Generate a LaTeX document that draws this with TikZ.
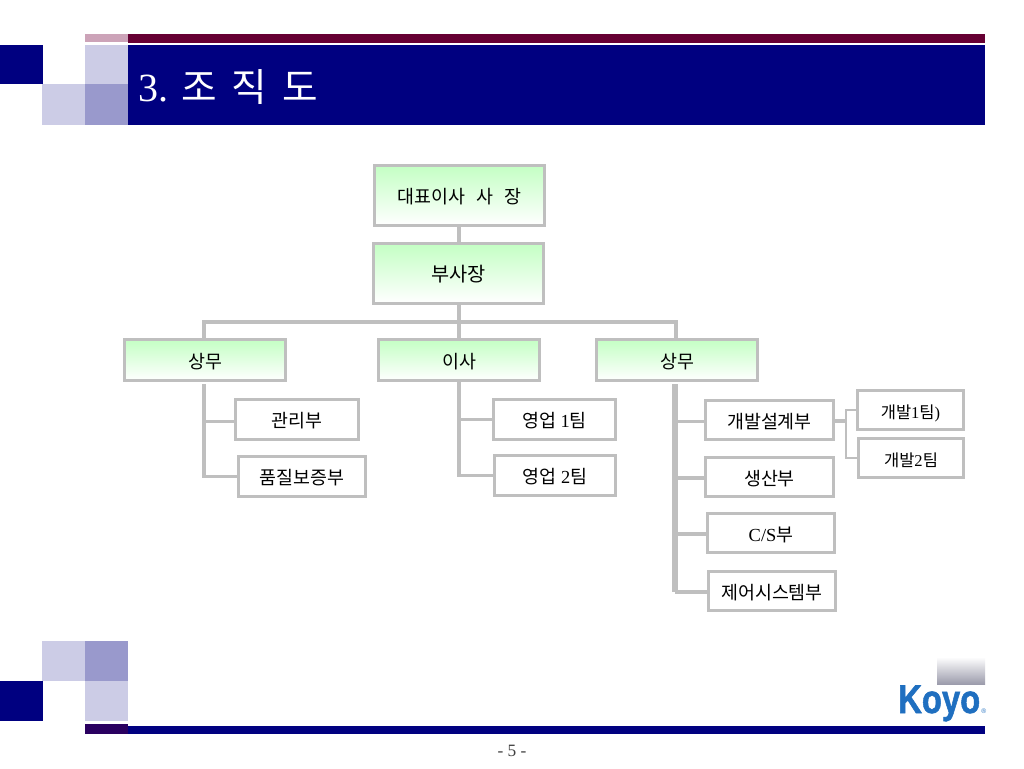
\documentclass[tikz,border=0pt]{standalone}
\usepackage{fontspec}
\setmainfont{Liberation Serif}
\newfontfamily\kr{Noto Sans CJK KR}
\newfontfamily\logofont[BoldFeatures={FakeBold=1.5}]{Liberation Sans}
\definecolor{navy}{HTML}{000080}
\definecolor{crimson}{HTML}{660033}
\definecolor{pinkbar}{HTML}{CCA3B8}
\definecolor{lightsq}{HTML}{CCCCE6}
\definecolor{midsq}{HTML}{9999CC}
\definecolor{purplebar}{HTML}{2A0060}
\definecolor{linegrey}{HTML}{BFBFBF}
\definecolor{greengrad}{HTML}{C4FFC4}
\definecolor{logoblue}{HTML}{1F6FC0}
\definecolor{greygrad}{HTML}{9C9CAC}
\definecolor{pagegrey}{HTML}{404040}
\tikzset{
  x=0.75pt,y=-0.75pt,
  boxbase/.style={draw=linegrey,line width=2.4pt,inner sep=0pt,align=center,text=black,font=\fontsize{13.8pt}{16pt}\selectfont},
  greenbox/.style={boxbase,top color=greengrad,bottom color=white},
  whitebox/.style={boxbase,fill=white},
  smallbox/.style={whitebox,font=\fontsize{12.4pt}{15pt}\selectfont},
  conn/.style={draw=linegrey,line width=2.4pt},
  trunk/.style={draw=linegrey,line width=4.2pt},
  thinconn/.style={draw=linegrey,line width=1.5pt},
}
\newcommand{\bx}[7]{\node[#6,minimum width={(#4-#2-3)*0.75pt},minimum height={(#5-#3-3)*0.75pt}] (#1) at ({(#2+#4)/2},{(#3+#5)/2}) {\raisebox{-6pt}[0pt][0pt]{#7}};}
\begin{document}
\begin{tikzpicture}
\useasboundingbox (0,0) rectangle (1024,768);
\fill[white] (0,0) rectangle (1024,768);
% header
\fill[pinkbar] (85,34) rectangle (128,42);
\fill[crimson] (128,34) rectangle (985,43);
\fill[navy] (128,45) rectangle (985,125);
\fill[navy] (0,45) rectangle (43,84);
\fill[lightsq] (85,45) rectangle (128,84);
\fill[lightsq] (42,84) rectangle (85,125);
\fill[midsq] (85,84) rectangle (128,125);
\node[anchor=west,text=white,inner sep=0pt,font=\fontsize{30pt}{34pt}\selectfont] (title) at (138,87) {3.\hspace{10pt}{\kr\fontsize{29pt}{32pt}\selectfont 조\hspace{11pt}직\hspace{11pt}도}};
% footer
\fill[lightsq] (42,641) rectangle (85,681);
\fill[midsq] (85,641) rectangle (128,681);
\fill[navy] (0,681) rectangle (43,721);
\fill[lightsq] (85,681) rectangle (128,721);
\fill[navy] (128,726) rectangle (985,734);
\fill[purplebar] (85,724) rectangle (128,734);
\shade[top color=white,bottom color=greygrad] (937,657) rectangle (985,684);
\node[anchor=base west,inner sep=0pt,text=logoblue,xscale=0.82,font=\logofont\bfseries\fontsize{30pt}{34pt}\selectfont] (logo) at (898,713) {Koyo};
\node[anchor=base west,inner sep=0pt,text=logoblue,font=\logofont\fontsize{5pt}{6pt}\selectfont] (reg) at (981,713) {®};
\node[text=pagegrey,inner sep=0pt,font=\fontsize{13pt}{15pt}\selectfont] (page) at (512,751) {- 5 -};
% boxes
\bx{ceo}{373}{164}{546}{227}{greenbox}{\kr 대표이사\hspace{5pt} 사\hspace{5pt} 장}
\bx{vp}{372}{242}{545}{305}{greenbox}{\kr\fontsize{14.8pt}{17pt}\selectfont 부사장}
\bx{smA}{123}{338}{287}{382}{greenbox}{\kr 상무}
\bx{dir}{377}{338}{541}{382}{greenbox}{\kr 이사}
\bx{smB}{595}{338}{759}{382}{greenbox}{\kr 상무}
\bx{mgmt}{234}{398}{360}{441}{whitebox}{\kr 관리부}
\bx{qa}{237}{455}{367}{498}{whitebox}{\kr 품질보증부}
\bx{salesA}{492}{398}{617}{441}{whitebox}{{\kr 영업} 1{\kr 팀}}
\bx{salesB}{493}{454}{617}{497}{whitebox}{{\kr 영업} 2{\kr 팀}}
\bx{dev}{704}{399}{835}{441}{whitebox}{\kr 개발설계부}
\bx{prod}{704}{456}{835}{498}{whitebox}{\kr 생산부}
\bx{cs}{706}{512}{836}{554}{whitebox}{C/S{\kr 부}}
\bx{ctrl}{707}{570}{837}{612}{whitebox}{\kr 제어시스템부}
\bx{teamA}{856}{389}{965}{431}{smallbox}{{\kr 개발}1{\kr 팀})}
\bx{teamB}{857}{437}{965}{479}{smallbox}{{\kr 개발}2{\kr 팀}}
% connectors
\coordinate (bus) at (459,322);
\coordinate (smAtop) at (204,338);
\coordinate (smBtop) at (676,338);
\coordinate (treeA) at (204,384);
\coordinate (treeB) at (675,384);
\coordinate (treeD) at (846,421);
\draw[conn] (bus |- ceo.south) -- (bus |- vp.north);
\draw[conn] (bus |- vp.south) -- (bus |- dir.north);
\draw[conn] (smAtop) |- (bus);
\draw[conn] (smBtop) |- (bus);
\draw[conn] (treeA) |- (qa.west);
\draw[conn] ([yshift=-1.2pt]treeA |- mgmt.west) -- ([yshift=-1.2pt]mgmt.west);
\draw[conn] (dir.south) |- (salesB.west);
\draw[conn] (dir.south |- salesA.west) -- (salesA.west);
\draw[trunk] (treeB) -- ([yshift=-0.75pt]treeB |- ctrl.west);
\draw[conn] ([yshift=-0.75pt]treeB |- ctrl.west) -- ([yshift=-0.75pt]ctrl.west);
\draw[conn] ([yshift=-1.2pt]treeB |- dev.west) -- ([yshift=-1.2pt]dev.west);
\draw[conn] ([yshift=-0.75pt]treeB |- prod.west) -- ([yshift=-0.75pt]prod.west);
\draw[conn] ([yshift=-0.75pt]treeB |- cs.west) -- ([yshift=-0.75pt]cs.west);
\draw[conn] (dev.east |- treeD) -- (treeD);
\draw[thinconn] (treeD) |- (teamA.west);
\draw[thinconn] (treeD) |- (teamB.west);
\end{tikzpicture}
\end{document}
